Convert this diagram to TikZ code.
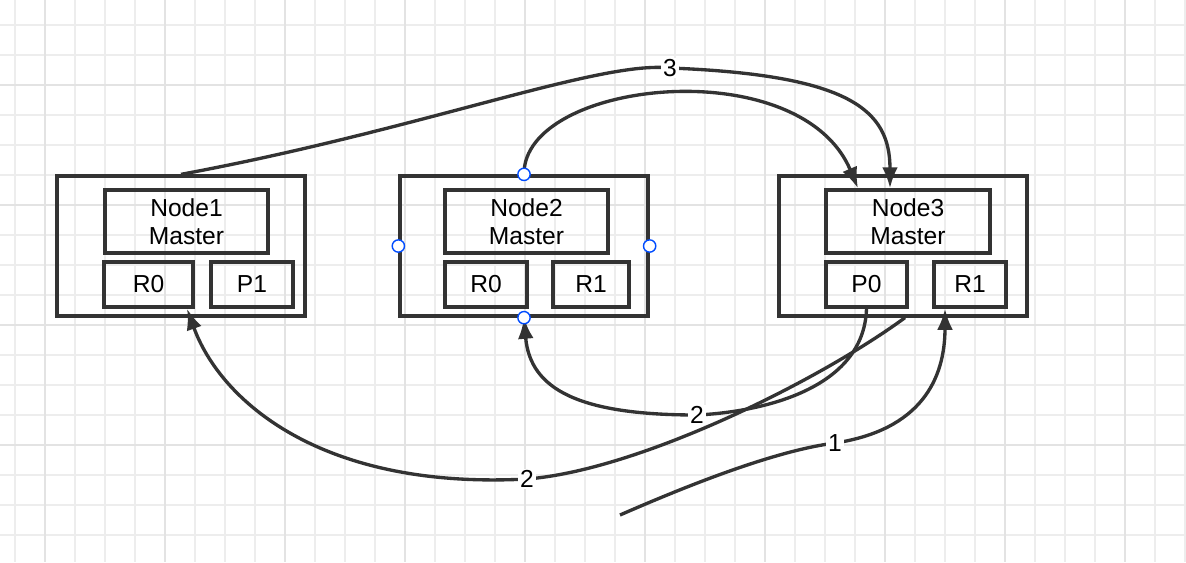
\documentclass[tikz,border=0pt]{standalone}
\usepackage{fontspec}
\setmainfont{Liberation Sans}
\usetikzlibrary{positioning,arrows.meta}
\tikzset{box/.style={draw=black!80,line width=1.9pt,inner sep=0pt},
  link/.style={draw=black!80,line width=1.9pt,-{Latex[length=12pt,width=9pt]}},
  lbl/.style={fill=white,inner sep=1pt,font=\fontsize{14}{16}\selectfont},
  handle/.style={circle,draw=blue!70!cyan,fill=white,line width=0.8pt,minimum size=7pt,inner sep=0pt}}
\begin{document}
\begin{tikzpicture}[x=0.02cm,y=-0.02cm,font=\fontsize{14}{16}\selectfont]
    \useasboundingbox (0,0) rectangle (1186,562);
    \foreach \x in {15,45,...,1185} \draw[black!7,line width=0.6pt] (\x,0) -- (\x,562);
    \foreach \y in {25,55,...,561} \draw[black!7,line width=0.6pt] (0,\y) -- (1186,\y);
    \foreach \x in {45,165,...,1185} \draw[black!11,line width=0.8pt] (\x,0) -- (\x,562);
    \foreach \y in {85,205,...,561} \draw[black!11,line width=0.8pt] (0,\y) -- (1186,\y);
    % node 1
    \node[box,minimum width=4.96cm,minimum height=2.8cm] (n1) at (181,246) {};
    \node[box,minimum width=3.26cm,minimum height=1.26cm,align=center] (m1) at (186.5,221.5) {Node1\\Master};
    \node[box,minimum width=1.78cm,minimum height=0.9cm] (a1) at (148.5,284.5) {R0};
    \node[box,minimum width=1.64cm,minimum height=0.9cm] (b1) at (252,284.5) {P1};
    % node 2
    \node[box,minimum width=4.96cm,minimum height=2.8cm] (n2) at (524,246) {};
    \node[box,minimum width=3.26cm,minimum height=1.26cm,align=center] (m2) at (526.5,221.5) {Node2\\Master};
    \node[box,minimum width=1.64cm,minimum height=0.9cm] (a2) at (486,284.5) {R0};
    \node[box,minimum width=1.52cm,minimum height=0.9cm] (b2) at (591,284.5) {R1};
    % node 3
    \node[box,minimum width=4.96cm,minimum height=2.8cm] (n3) at (903,246) {};
    \node[box,minimum width=3.28cm,minimum height=1.26cm,align=center] (m3) at (908,221.5) {Node3\\Master};
    \node[box,minimum width=1.62cm,minimum height=0.9cm] (a3) at (866.5,284.5) {P0};
    \node[box,minimum width=1.44cm,minimum height=0.9cm] (b3) at (970,284.5) {R1};
    \coordinate (start) at (620,515);
    % links
    \draw[link] (n1.north) .. controls (420,130) and (600,60) .. (670,68)
        node[lbl] {3} .. controls (850,75) and (890,110) .. (m3.north-|890,0);
    \draw[link] (n2.north) .. controls (523,80) and (800,50) .. (m3.north-|858,0);
    \draw[link] (a3.south) .. controls (864,390) and (760,412) .. (697,415)
        node[lbl] {2} .. controls (580,415) and (530,390) .. (n2.south);
    \draw[link] (n3.south-|905,0) .. controls (820,380) and (640,470) .. (527,479)
        node[lbl] {2} .. controls (320,490) and (220,400) .. (a1.south-|187,0);
    \draw[link] (start) .. controls (700,480) and (780,450) .. (835,443)
        node[lbl] {1} .. controls (920,430) and (945,380) .. (b3.south-|945,0);
    % handles
    \foreach \p in {north,south,east,west} \node[handle] at (n2.\p) {};
\end{tikzpicture}
\end{document}
